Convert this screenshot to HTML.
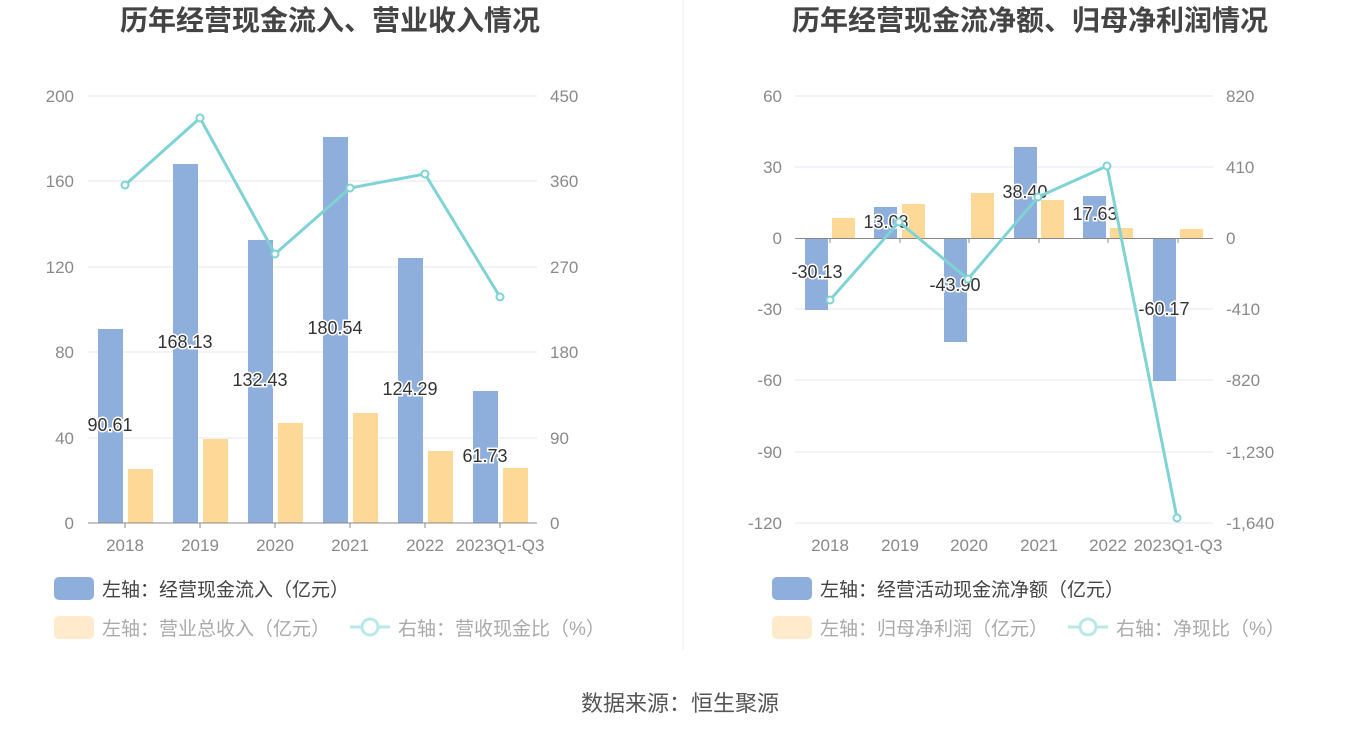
<!DOCTYPE html>
<html><head><meta charset="utf-8"><style>
body{margin:0;background:#fff;}
svg text{font-family:"Liberation Sans","Noto Sans CJK SC",sans-serif;}
.ax{fill:#8a8a8a;font-size:17px;}
.lb{fill:#333;font-size:18px;text-anchor:middle;paint-order:stroke;stroke:#fff;stroke-width:3px;}
.g{stroke:#e3e7f1;stroke-width:1;}
</style></head><body>
<svg width="1360" height="734" viewBox="0 0 1360 734">
<line x1="683" y1="0" x2="683" y2="650" stroke="#eee"/>
<text x="330" y="30" text-anchor="middle" font-size="28" font-weight="bold" fill="#444">历年经营现金流入、营业收入情况</text>
<text x="1030" y="30" text-anchor="middle" font-size="28" font-weight="bold" fill="#444">历年经营现金流净额、归母净利润情况</text>
<!-- left chart -->
<g>
<line class="g" x1="88" y1="96" x2="537" y2="96"/><line class="g" x1="88" y1="181" x2="537" y2="181"/><line class="g" x1="88" y1="267" x2="537" y2="267"/><line class="g" x1="88" y1="352" x2="537" y2="352"/><line class="g" x1="88" y1="438" x2="537" y2="438"/>
<g class="ax" text-anchor="end"><text x="74" y="102">200</text><text x="74" y="187">160</text><text x="74" y="273">120</text><text x="74" y="358">80</text><text x="74" y="444">40</text><text x="74" y="529">0</text></g>
<g class="ax"><text x="550" y="102">450</text><text x="550" y="187">360</text><text x="550" y="273">270</text><text x="550" y="358">180</text><text x="550" y="444">90</text><text x="550" y="529">0</text></g>
<g fill="#8eaedb">
<rect x="98" y="329" width="25" height="194"/><rect x="173" y="164" width="25" height="359"/><rect x="248" y="240" width="25" height="283"/><rect x="323" y="137" width="25" height="386"/><rect x="398" y="258" width="25" height="265"/><rect x="473" y="391" width="25" height="132"/></g>
<g fill="#fed897">
<rect x="128" y="469" width="25" height="54"/><rect x="203" y="439" width="25" height="84"/><rect x="278" y="423" width="25" height="100"/><rect x="353" y="413" width="25" height="110"/><rect x="428" y="451" width="25" height="72"/><rect x="503" y="468" width="25" height="55"/></g>
<line x1="88" y1="523" x2="537" y2="523" stroke="#888"/>
<g stroke="#888"><line x1="125" y1="523" x2="125" y2="528"/><line x1="200" y1="523" x2="200" y2="528"/><line x1="275" y1="523" x2="275" y2="528"/><line x1="350" y1="523" x2="350" y2="528"/><line x1="425" y1="523" x2="425" y2="528"/><line x1="500" y1="523" x2="500" y2="528"/></g>
<g class="ax" text-anchor="middle"><text x="125" y="551">2018</text><text x="200" y="551">2019</text><text x="275" y="551">2020</text><text x="350" y="551">2021</text><text x="425" y="551">2022</text><text x="500" y="551">2023Q1-Q3</text></g>
<polyline points="125,185 200,118 275,254 350,188 425,174 500,297" fill="none" stroke="#80d3d4" stroke-width="3"/>
<g fill="#fff" stroke="#80d3d4" stroke-width="2"><circle cx="125" cy="185" r="3.5"/><circle cx="200" cy="118" r="3.5"/><circle cx="275" cy="254" r="3.5"/><circle cx="350" cy="188" r="3.5"/><circle cx="425" cy="174" r="3.5"/><circle cx="500" cy="297" r="3.5"/></g>
<text class="lb" x="110" y="431">90.61</text><text class="lb" x="185" y="348">168.13</text><text class="lb" x="260" y="386">132.43</text><text class="lb" x="335" y="334">180.54</text><text class="lb" x="410" y="395">124.29</text><text class="lb" x="485" y="462">61.73</text>
<rect x="54" y="577" width="40" height="23" rx="5" fill="#8eaedb"/>
<text x="102" y="596" font-size="19" fill="#444">左轴：经营现金流入（亿元）</text>
<rect x="54" y="616" width="40" height="23" rx="5" fill="#ffebcb"/>
<text x="102" y="635" font-size="19" fill="#aaa">左轴：营业总收入（亿元）</text>
<line x1="350" y1="627" x2="390" y2="627" stroke="#b9e8e9" stroke-width="3"/><circle cx="370" cy="627" r="8" fill="#fff" stroke="#b9e8e9" stroke-width="3"/>
<text x="398" y="635" font-size="19" fill="#aaa">右轴：营收现金比（%）</text>
</g>
<!-- right chart -->
<g>
<line class="g" x1="795" y1="96" x2="1213" y2="96"/><line class="g" x1="795" y1="167" x2="1213" y2="167"/><line class="g" x1="795" y1="309" x2="1213" y2="309"/><line class="g" x1="795" y1="380" x2="1213" y2="380"/><line class="g" x1="795" y1="452" x2="1213" y2="452"/><line class="g" x1="795" y1="523" x2="1213" y2="523"/>
<g class="ax" text-anchor="end"><text x="782" y="102">60</text><text x="782" y="173">30</text><text x="782" y="244">0</text><text x="782" y="315">-30</text><text x="782" y="386">-60</text><text x="782" y="458">-90</text><text x="782" y="529">-120</text></g>
<g class="ax"><text x="1226" y="102">820</text><text x="1226" y="173">410</text><text x="1226" y="244">0</text><text x="1226" y="315">-410</text><text x="1226" y="386">-820</text><text x="1226" y="458">-1,230</text><text x="1226" y="529">-1,640</text></g>
<g fill="#8eaedb">
<rect x="805" y="238" width="23" height="72"/><rect x="874" y="207" width="23" height="31"/><rect x="944" y="238" width="23" height="104"/><rect x="1014" y="147" width="23" height="91"/><rect x="1083" y="196" width="23" height="42"/><rect x="1153" y="238" width="23" height="143"/></g>
<g fill="#fed897">
<rect x="832" y="218" width="23" height="20"/><rect x="902" y="204" width="23" height="34"/><rect x="971" y="193" width="23" height="45"/><rect x="1041" y="200" width="23" height="38"/><rect x="1110" y="228" width="23" height="10"/><rect x="1180" y="229" width="23" height="9"/></g>
<line x1="795" y1="238.5" x2="1213" y2="238.5" stroke="#888"/>
<g stroke="#888"><line x1="830" y1="238" x2="830" y2="243"/><line x1="900" y1="238" x2="900" y2="243"/><line x1="969" y1="238" x2="969" y2="243"/><line x1="1039" y1="238" x2="1039" y2="243"/><line x1="1108" y1="238" x2="1108" y2="243"/><line x1="1178" y1="238" x2="1178" y2="243"/></g>
<g class="ax" text-anchor="middle"><text x="830" y="551">2018</text><text x="900" y="551">2019</text><text x="969" y="551">2020</text><text x="1039" y="551">2021</text><text x="1108" y="551">2022</text><text x="1178" y="551">2023Q1-Q3</text></g>
<text class="lb" x="817" y="278">-30.13</text><text class="lb" x="886" y="228">13.08</text><text class="lb" x="955" y="291">-43.90</text><text class="lb" x="1025" y="198">38.40</text><text class="lb" x="1095" y="220">17.63</text><text class="lb" x="1164" y="315">-60.17</text>
<polyline points="830,300 899,222 968,279 1038,197 1107,166 1177,518" fill="none" stroke="#80d3d4" stroke-width="3"/>
<g fill="#fff" stroke="#80d3d4" stroke-width="2"><circle cx="830" cy="300" r="3.5"/><circle cx="899" cy="222" r="3.5"/><circle cx="968" cy="279" r="3.5"/><circle cx="1038" cy="197" r="3.5"/><circle cx="1107" cy="166" r="3.5"/><circle cx="1177" cy="518" r="3.5"/></g>
<rect x="772" y="577" width="40" height="23" rx="5" fill="#8eaedb"/>
<text x="820" y="596" font-size="19" fill="#444">左轴：经营活动现金流净额（亿元）</text>
<rect x="772" y="616" width="40" height="23" rx="5" fill="#ffebcb"/>
<text x="820" y="635" font-size="19" fill="#aaa">左轴：归母净利润（亿元）</text>
<line x1="1068" y1="627" x2="1108" y2="627" stroke="#b9e8e9" stroke-width="3"/><circle cx="1088" cy="627" r="8" fill="#fff" stroke="#b9e8e9" stroke-width="3"/>
<text x="1116" y="635" font-size="19" fill="#aaa">右轴：净现比（%）</text>
</g>
<text x="680" y="711" text-anchor="middle" font-size="22" fill="#555">数据来源：恒生聚源</text>
</svg>
</body></html>
